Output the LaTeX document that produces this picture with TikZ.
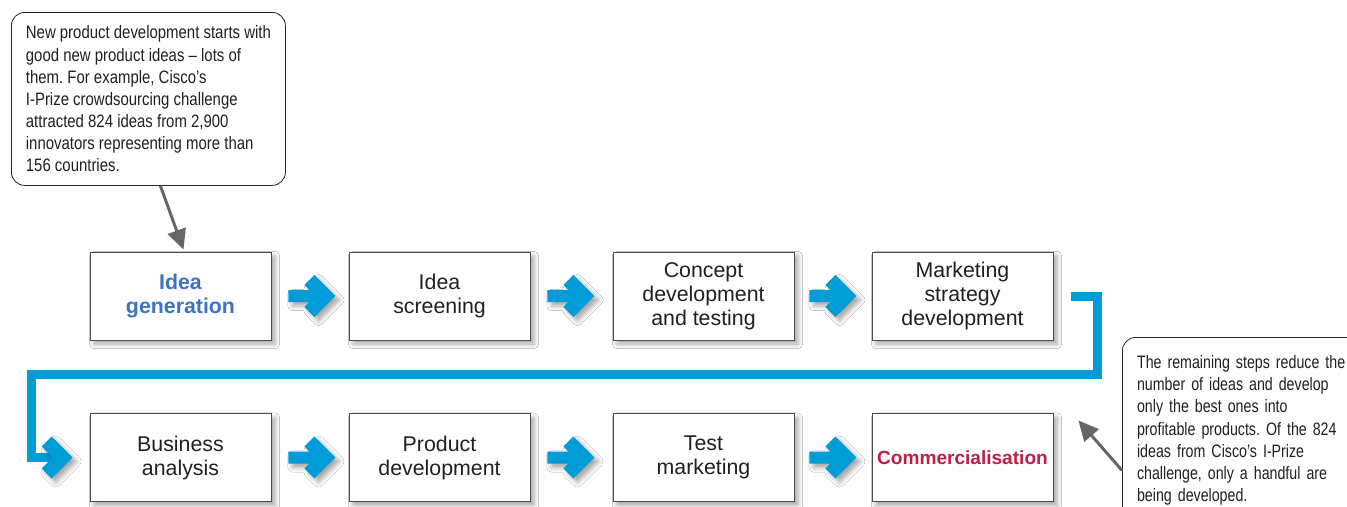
\documentclass[tikz,border=0pt]{standalone}
\usepackage{fontspec}
\setmainfont{Liberation Sans}
\newfontfamily\condfont[FakeStretch=0.83]{Liberation Sans}
\newfontfamily\condnarrow[FakeStretch=0.79]{Liberation Sans}
\usetikzlibrary{arrows.meta,calc,shadows.blur}
\definecolor{flowblue}{RGB}{0,156,216}
\definecolor{pointgray}{RGB}{100,101,104}
\definecolor{ideablue}{RGB}{59,116,194}
\definecolor{commred}{RGB}{190,30,72}
\definecolor{boxtext}{RGB}{35,31,32}
\frenchspacing
\tikzset{
  softshadow/.style={blur shadow={shadow xshift=3pt, shadow yshift=-3pt, shadow blur radius=3.5pt, shadow opacity=35}},
  flowtip/.style={fill=flowblue, softshadow},
  stagebox/.style={draw=black!70, line width=0.7pt, fill=white, minimum width=135.75pt, minimum height=66pt,
    align=center, text=boxtext, font=\fontsize{16}{18}\selectfont, softshadow},
  note/.style={draw=black!85, line width=0.6pt, rounded corners=10pt, fill=white, align=left,
    text=boxtext, font=\condfont\fontsize{13.5}{16.6}\selectfont},
  pointer/.style={draw=pointgray, line width=2.2pt, -{Triangle[length=15pt, width=14pt]}},
  link/.style={draw=flowblue, line width=6.75pt,
    preaction={draw=black!15, transform canvas={xshift=2.5pt, yshift=-2.5pt}}}
}
% chevron arrow, starting at the given point
\newcommand\chev[1]{\fill[flowtip] (#1) ++(0,-6) -- ++(21,0) -- ++(-5,-5) -- ++(10,-10) -- ++(21,21)
  -- ++(-21,21) -- ++(-10,-10) -- ++(5,-5) -- ++(-21,0) -- cycle;}
% chevron head only, tip at the given point
\newcommand\chevhead[1]{\fill[flowtip] (#1) ++(-31,-11) -- ++(10,-10) -- ++(21,21) -- ++(-21,21)
  -- ++(-10,-10) -- ++(11,-11) -- cycle;}
\begin{document}
\begin{tikzpicture}[x=0.75pt, y=-0.75pt]
  \clip (0,0) rectangle (1347,507);
  \fill[white] (0,0) rectangle (1347,507);

  \node[stagebox] (idea) at (180.5,296) {\textcolor{ideablue}{\textbf{Idea}}\\\textcolor{ideablue}{\textbf{generation}}};
  \node[stagebox] (screen) at (439.5,296) {Idea\\screening};
  \node[stagebox] (concept) at (703.5,296) {Concept\\development\\and testing};
  \node[stagebox] (strategy) at (962.5,296) {Marketing\\strategy\\development};
  \node[stagebox] (business) at (180.5,457.5) {Business\\analysis};
  \node[stagebox] (product) at (439.5,457.5) {Product\\development};
  \node[stagebox] (testmkt) at (703.5,457.5) {Test\\marketing};
  \node[stagebox, font=\fontsize{14.3}{17}\selectfont] (commerc) at (962.5,457.5) {\textcolor{commred}{\textbf{Commercialisation}}};

  \chev{$(idea.east)+(17,0)$}
  \chev{$(screen.east)+(17,0)$}
  \chev{$(concept.east)+(15,0)$}
  \chev{$(business.east)+(17,0)$}
  \chev{$(product.east)+(17,0)$}
  \chev{$(testmkt.east)+(15,0)$}

  \draw[link] ($(strategy.east)+(18,0)$) -- (1097,296) -- (1097,374) -- (31,374) -- (31,457.5)
    -- ($(business.west)+(-36,0)$);
  \chevhead{$(business.west)+(-17,0)$}

  \node[note, minimum width=205.5pt, minimum height=129.75pt, anchor=north west] (notetop) at (11,12)
    {New product development starts with\\good new product ideas – lots of\\them. For example, Cisco’s\\I-Prize crowdsourcing challenge\\attracted 824 ideas from 2,900\\innovators representing more than\\156 countries.};
  \node[note, font=\condnarrow\fontsize{13.5}{16.6}\selectfont, text width=180pt, inner xsep=11pt,
    minimum height=139.5pt, anchor=north west] (noteright) at (1122,337)
    {The remaining steps reduce the\\number of ideas and develop\\only the best ones into\\profitable products. Of the 824\\ideas from Cisco’s I-Prize\\challenge, only a handful are\\being developed.};

  \draw[pointer] ($(notetop.south)+(12,0)$) -- ($(idea.north)+(3,-2)$);
  \draw[pointer] ($(noteright.west)+(0,40)$) -- ($(commerc.east)+(25,-37)$);
\end{tikzpicture}
\end{document}
